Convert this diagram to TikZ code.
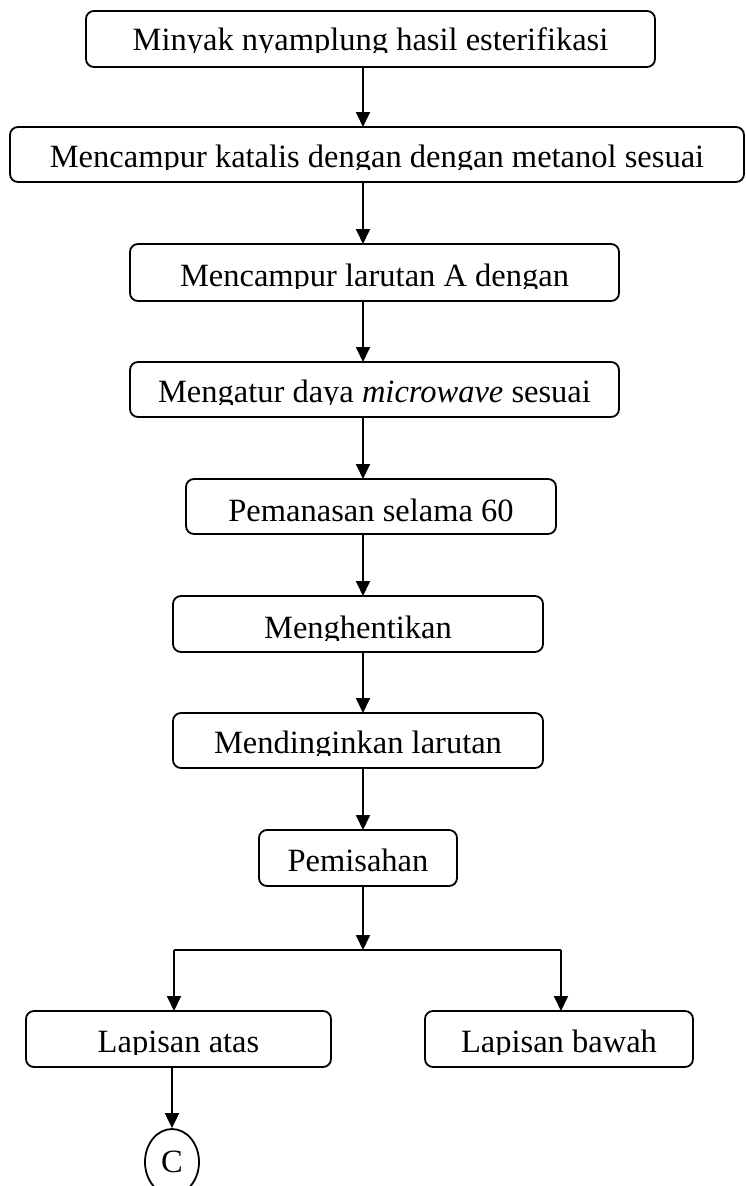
\documentclass[tikz,border=0pt]{standalone}
\usepackage{fontspec}
\setmainfont{Liberation Serif}
\usetikzlibrary{arrows.meta,shapes.geometric}
\tikzset{
  boxshape/.style={draw, line width=1.8pt, rounded corners=8pt, inner sep=0pt, outer sep=0pt},
  boxtext/.style={anchor=base, inner sep=0pt, outer sep=0pt, font=\fontsize{32.5}{38}\selectfont},
  arr/.style={line width=1.8pt, -{Triangle[length=15pt,width=14pt]}},
  plainline/.style={line width=1.8pt},
  conn/.style={draw, ellipse, line width=1.8pt, inner sep=0pt, minimum width=54pt, minimum height=66pt, font=\fontsize{32.5}{38}\selectfont},
}
\newcommand\flowbox[7]{% name x1 x2 y1 y2 baseline text
  \node[boxshape, minimum width={#3-#2}, minimum height={#5-#4}] (#1) at ({(#2+#3)/2},{(#4+#5)/2}) {};
  \begin{scope}
    \clip (#2,#4) rectangle (#3,{#6+2});
    \node[boxtext] (#1t) at ({(#2+#3)/2},#6) {#7};
  \end{scope}
}
\begin{document}
\begin{tikzpicture}[x=1pt,y=-1pt]
  \useasboundingbox (0,0) rectangle (745,1186);
  \coordinate (ax) at (363,0);
  \flowbox{b1}{86}{655}{11}{67}{50}{Minyak nyamplung hasil esterifikasi}
  \flowbox{b2}{10}{744}{127}{182}{167}{Mencampur katalis dengan dengan metanol sesuai}
  \flowbox{b3}{130}{619}{244}{301}{286}{Mencampur larutan A dengan}
  \flowbox{b4}{130}{619}{362}{417}{402}{Mengatur daya \textit{microwave} sesuai}
  \flowbox{b5}{186}{556}{479}{534}{521}{Pemanasan selama 60}
  \flowbox{b6}{173}{543}{596}{652}{638}{Menghentikan}
  \flowbox{b7}{173}{543}{713}{768}{753}{Mendinginkan larutan}
  \flowbox{b8}{259}{457}{830}{886}{871}{Pemisahan}
  \flowbox{b9}{26}{331}{1011}{1067}{1052}{Lapisan atas}
  \flowbox{b10}{425}{693}{1011}{1067}{1052}{Lapisan bawah}
  \node[conn] (c) at (172,1162) {C};

  \draw[arr] (b1.south -| ax) -- (b2.north -| ax);
  \draw[arr] (b2.south -| ax) -- (b3.north -| ax);
  \draw[arr] (b3.south -| ax) -- (b4.north -| ax);
  \draw[arr] (b4.south -| ax) -- (b5.north -| ax);
  \draw[arr] (b5.south -| ax) -- (b6.north -| ax);
  \draw[arr] (b6.south -| ax) -- (b7.north -| ax);
  \draw[arr] (b7.south -| ax) -- (b8.north -| ax);
  \coordinate (bm) at (363,950);
  \coordinate (bl) at (174,950);
  \coordinate (brr) at (561,950);
  \draw[arr] (b8.south -| ax) -- (bm);
  \draw[plainline] (bl) -- (brr);
  \draw[arr] (bl) -- (bl |- b9.north);
  \draw[arr] (brr) -- (brr |- b10.north);
  \draw[arr] (b9.south -| c.north) -- (c.north);
\end{tikzpicture}
\end{document}
